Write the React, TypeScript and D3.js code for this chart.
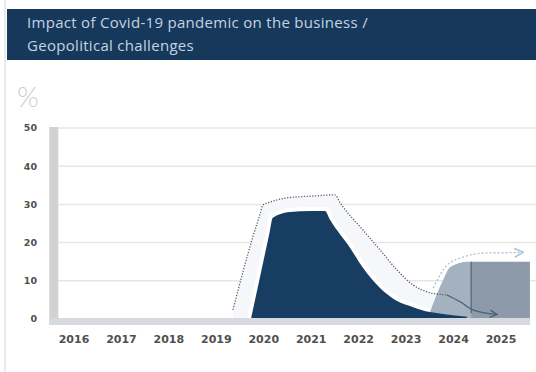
import React from "react";
import * as d3 from "d3";

const titleLines = ["Impact of Covid-19 pandemic on the business /", "Geopolitical challenges"];
const unitLabel = "%";
const xTicks = [2016, 2017, 2018, 2019, 2020, 2021, 2022, 2023, 2024, 2025];
const yTicks = [0, 10, 20, 30, 40, 50];

// Actual impact (dark navy area)
const impactYears = [2019.73, 2020.12, 2020.19, 2020.55, 2021.0, 2021.29, 2021.4, 2021.82, 2022.09, 2022.45, 2022.81, 2023.15, 2023.5, 2023.78, 2024.28];
const impactValues = [0, 22.5, 26.5, 28.0, 28.3, 28.3, 25.9, 18.6, 13.4, 8.1, 4.7, 3.1, 1.8, 1.3, 0.6];

// Expected impact (dotted outline)
const outlookYears = [2019.35, 2019.77, 2019.93, 2019.98, 2020.13, 2020.49, 2021.04, 2021.5, 2021.61, 2022.09, 2022.45, 2022.81, 2023.15, 2023.5, 2023.86];
const outlookValues = [2.4, 21.5, 27.8, 29.8, 30.6, 31.7, 32.2, 32.5, 30.4, 23.3, 18.1, 12.8, 8.9, 6.9, 6.3];

// Continuation arrow of expected impact
const tailYears = [2023.86, 2024.14, 2024.41, 2024.92];
const tailValues = [6.3, 4.5, 2.4, 1.2];

// Geopolitical challenges (gray area)
const forecastYears = [2023.45, 2023.78, 2023.93, 2024.31, 2025.61];
const forecastValues = [0, 10.2, 13.6, 15.0, 15.0];
const dividerYear = 2024.37;
const dividerValue = 15.0;

// Geopolitical outlook (light dashed line)
const forecastLineYears = [2023.57, 2023.86, 2024.2, 2024.7, 2025.34, 2025.47];
const forecastLineValues = [8.1, 14.1, 16.2, 17.3, 17.4, 17.5];

const W = 536;
const H = 372;

export default function App() {
  const x = d3.scaleLinear().domain([2016, 2025]).range([74, 501]);
  const y = d3.scaleLinear().domain([0, 50]).range([319, 128]);

  const zip = (xs: number[], vs: number[]) => xs.map((t, i) => [t, vs[i]] as [number, number]);
  const impact = zip(impactYears, impactValues);
  const outlook = zip(outlookYears, outlookValues);
  const tail = zip(tailYears, tailValues);
  const forecast = zip(forecastYears, forecastValues);
  const forecastLine = zip(forecastLineYears, forecastLineValues);

  const curve = d3.curveMonotoneX;
  const area = d3
    .area<[number, number]>()
    .x((d) => x(d[0]))
    .y0(y(0))
    .y1((d) => y(d[1]))
    .curve(curve);
  const line = d3
    .line<[number, number]>()
    .x((d) => x(d[0]))
    .y((d) => y(d[1]))
    .curve(curve);

  const splitIdx = forecast.findIndex((d) => d[0] > dividerYear);
  const forecastLeft = [...forecast.slice(0, splitIdx), [dividerYear, dividerValue] as [number, number]];
  const forecastRight = [[dividerYear, dividerValue] as [number, number], ...forecast.slice(splitIdx)];

  const lightFill = [...outlook, ...tail.slice(1)];

  const gridX0 = x(2015.5) + 8;
  const barLeft = x(2015.5) - 1;

  return (
    <svg
      width={W}
      height={H}
      style={{ position: "absolute", left: 0, top: 0, background: "#fff" }}
      fontFamily="DejaVu Sans, sans-serif"
    >
      <defs>
        <marker id="arrowDark" viewBox="0 0 10 10" refX="9" refY="5" markerWidth="9" markerHeight="9" orient="auto" markerUnits="userSpaceOnUse">
          <path d="M1,1 L9,5 L1,9" fill="none" stroke="#4a5f75" strokeWidth="1.4" />
        </marker>
        <marker id="arrowLight" viewBox="0 0 10 10" refX="9" refY="5" markerWidth="11" markerHeight="11" orient="auto" markerUnits="userSpaceOnUse">
          <path d="M1,1 L9,5 L1,9" fill="none" stroke="#a9c3d9" strokeWidth="1.4" />
        </marker>
      </defs>

      {/* left border */}
      <line x1={5} x2={5} y1={0} y2={H} stroke="#e2e4e6" strokeWidth={1.5} />

      {/* title banner */}
      <rect x={7} y={9} width={W - 7} height={51} fill="#16395b" />
      {titleLines.map((t, i) => (
        <text key={i} x={27} y={28 + i * 23} fill="#c4d3e2" fontSize={15} letterSpacing={0.3} fontFamily="Open Sans, sans-serif">
          {t}
        </text>
      ))}

      {/* unit */}
      <text x={17} y={107} fill="#cdcdcd" fontSize={28} fontFamily="Lato, sans-serif" fontWeight={300}>
        {unitLabel}
      </text>

      {/* gridlines */}
      {yTicks.slice(1).map((v) => (
        <line key={v} x1={gridX0} x2={W} y1={y(v)} y2={y(v)} stroke="#e6e6e6" strokeWidth={1.5} />
      ))}

      {/* y tick labels */}
      {yTicks.map((v) => (
        <text key={v} x={37} y={y(v)} dy="0.35em" textAnchor="end" fontSize={9.5} fill="#505050" fontWeight="bold">
          {v}
        </text>
      ))}

      {/* light fill under expected impact */}
      <path d={area(lightFill) ?? ""} fill="#f5f7fa" />

      {/* white halo around actual impact */}
      <path d={area(impact) ?? ""} fill="#fff" stroke="#fff" strokeWidth={8} strokeLinejoin="round" />

      {/* geopolitical area */}
      <path d={area(forecastLeft) ?? ""} fill="#a4b1be" />
      <path d={area(forecastRight) ?? ""} fill="#8c9aa9" />
      <line x1={x(dividerYear)} x2={x(dividerYear)} y1={y(dividerValue)} y2={y(1.5)} stroke="#3f5266" strokeWidth={1} />

      {/* actual impact */}
      <path d={area(impact) ?? ""} fill="#173d62" />

      {/* axes bars */}
      <rect x={barLeft} y={y(50) - 1} width={9} height={y(0) - y(50) + 7} fill="#d2d2d2" />
      <rect x={barLeft} y={y(0) - 1} width={530 - barLeft} height={7} fill="#d6d9dd" />

      {/* expected impact dotted line */}
      <path d={line(outlook) ?? ""} fill="none" stroke="#5a5a5a" strokeWidth={1.3} strokeDasharray="1.2,1.6" />
      <path d={line(tail) ?? ""} fill="none" stroke="#4a5f75" strokeWidth={1.3} markerEnd="url(#arrowDark)" />

      {/* geopolitical outlook line */}
      <path d={line(forecastLine) ?? ""} fill="none" stroke="#a9c3d9" strokeWidth={1.4} strokeDasharray="2,2" markerEnd="url(#arrowLight)" />

      {/* x tick labels */}
      {xTicks.map((t) => (
        <text key={t} x={x(t)} y={343} textAnchor="middle" fontSize={11} fill="#505050" fontWeight="bold">
          {t}
        </text>
      ))}
    </svg>
  );
}
